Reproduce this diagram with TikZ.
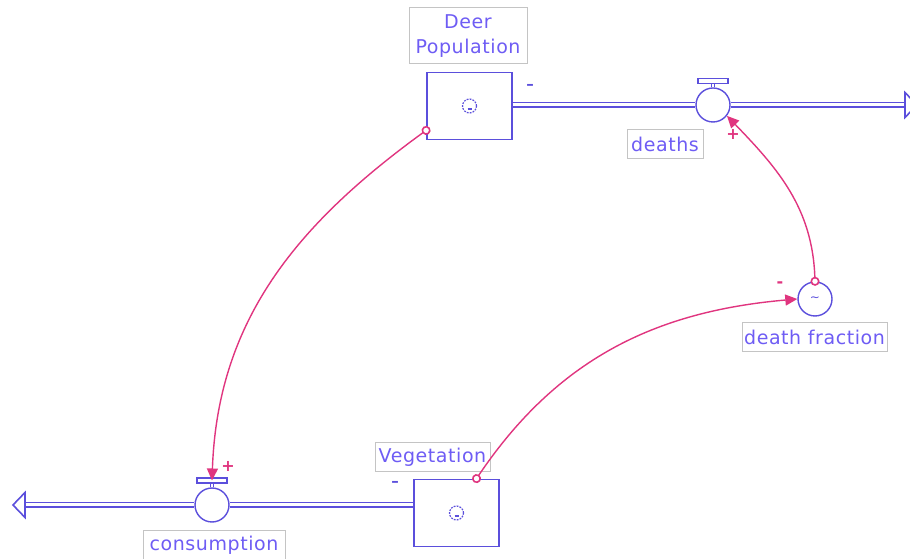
\documentclass[tikz,border=0pt]{standalone}
\usepackage{fontspec}
\setmainfont[LetterSpace=3]{DejaVu Sans}
\usetikzlibrary{arrows.meta}
\definecolor{sdblue}{HTML}{5B4FDC}
\definecolor{sdtext}{HTML}{6E5CF4}
\definecolor{sdpink}{HTML}{E0357F}
\definecolor{sdgray}{HTML}{C4C4C4}
\tikzset{
  stock/.style={draw=sdblue,line width=1.8pt,fill=white,minimum width=85pt,minimum height=67pt,inner sep=0pt},
  valve/.style={circle,draw=sdblue,line width=1.4pt,fill=white,minimum size=34pt,inner sep=0pt},
  valvebar/.style={draw=sdblue,line width=1.2pt,fill=white,minimum width=30pt,minimum height=5pt,inner sep=0pt},
  lbl/.style={draw=sdgray,line width=1pt,text=sdtext,font=\fontsize{19}{25}\selectfont,inner xsep=2pt,minimum height=29pt,align=center},
  pipe/.style={draw=sdblue,line width=1.6pt,double=white,double distance=3pt},
  stem/.style={draw=sdblue,line width=1.1pt,double=white,double distance=2pt},
  flowhead/.style={draw=sdblue,line width=1.6pt,fill=white,line join=miter},
  link/.style={draw=sdpink,line width=1.4pt,shorten <=-4.5pt,{Circle[open,length=9pt,line width=1.6pt,fill=white]}-{Triangle[length=12pt,width=11pt]}},
  pol/.style={text=sdpink,font=\bfseries\fontsize{16}{16}\selectfont},
  sgn/.style={text=sdblue,font=\bfseries\fontsize{15}{15}\selectfont}
}
\begin{document}
\begin{tikzpicture}[x=1pt,y=1pt]
\useasboundingbox (0,0) rectangle (910,559);
% stocks
\node[stock] (deer) at (469.5,453) {};
\node[lbl,minimum width=118pt,minimum height=56pt] (deerlbl) at (468,523) {Deer\\Population};
\node[stock] (veg) at (456.5,46) {};
\node[lbl,minimum width=115pt] (veglbl) at (432.5,102) {Vegetation};
\foreach \s in {deer,veg} {
  \draw[sdblue,line width=1.2pt,dash pattern=on 1.8pt off 1.2pt] (\s.center) circle (7pt);
  \draw[sdblue,line width=1.1pt] ([xshift=-2pt,yshift=-3pt]\s.center) -- ([xshift=2pt,yshift=-3pt]\s.center);
}
% flows
\node[valve] (deaths) at (713,454) {};
\node[valvebar] (deathsbar) at (713,478) {};
\node[lbl,minimum width=76pt] (deathslbl) at (665,414.5) {deaths};
\node[valve] (cons) at (212,54) {};
\node[valvebar] (consbar) at (212,78.5) {};
\node[lbl,minimum width=142pt] (conslbl) at (214,14) {consumption};
\draw[stem] (deathsbar.south) -- (deaths.north);
\draw[stem] (consbar.south) -- (cons.north);
\coordinate (deathsink) at (905,454);
\coordinate (conssink) at (25,54);
\draw[pipe] (deer.east |- deaths) -- (deaths.west);
\draw[pipe] (deaths.east) -- (deathsink);
\draw[flowhead] ([yshift=12.5pt]deathsink) -- ([xshift=12pt]deathsink) -- ([yshift=-12.5pt]deathsink) -- cycle;
\draw[pipe] (veg.west |- cons) -- (cons.east);
\draw[pipe] (cons.west) -- (conssink);
\draw[flowhead] ([yshift=12.5pt]conssink) -- ([xshift=-12pt]conssink) -- ([yshift=-12.5pt]conssink) -- cycle;
% converter
\node[valve,text=sdblue,font=\fontsize{12}{12}\selectfont] (frac) at (815,260) {\raisebox{-3pt}{\textasciitilde}};
\node[lbl,minimum width=145pt] (fraclbl) at (814.5,222) {death fraction};
% links
\draw[link] ([yshift=10pt]deer.south west) to[out=216,in=88] (consbar.center);
\draw[link] ([xshift=20pt]veg.north) to[out=56,in=185] (frac.west);
\draw[link] (frac.north) to[out=92,in=-46] (deaths.-38);
\node[pol] (conspol) at (228,93) {+};
\node[pol] (fracpol) at (780,274) {-};
\node[pol] (deathspol) at (733,425) {+};
\node[sgn] (deersgn) at (530,472) {\textendash};
\node[sgn] (vegsgn) at (395,75) {\textendash};
\end{tikzpicture}
\end{document}
